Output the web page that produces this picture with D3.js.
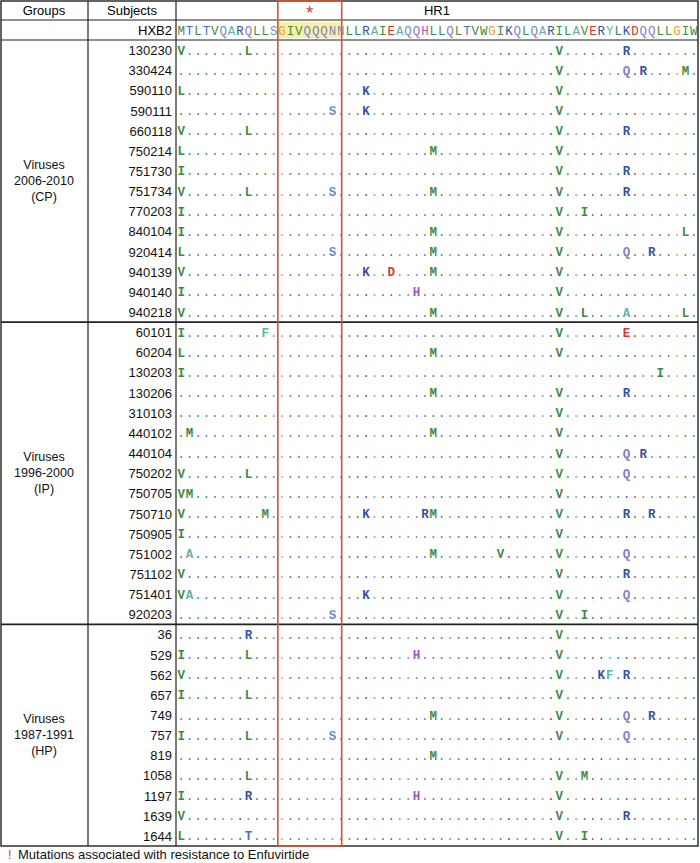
<!DOCTYPE html>
<html><head><meta charset="utf-8">
<script src="https://cdn.jsdelivr.net/npm/d3@7"></script>
<style>body{margin:0;background:#fff}</style>
</head><body><svg id="c" width="700" height="863"></svg>
<script>
// ---------------- DATA ----------------
const reference = "MTLTVQARQLLSGIVQQQNNLLRAIEAQQHLLQLTVWGIKQLQARILAVERYLKDQQLLGIW";
const regionLabel = "HR1";
const boxStart = 12, boxEnd = 19;   // boxed positions (GIVQQQNN)

const groupNames = [["Viruses","2006-2010","(CP)"],["Viruses","1996-2000","(IP)"],["Viruses","1987-1991","(HP)"]];

const subjectsCP = ["130230","330424","590110","590111","660118","750214","751730","751734","770203","840104","920414","940139","940140","940218"];
const mutationsCP = ["V0 L8 V45 R53","V45 Q53 R55 M60","L0 K22 V45","S18 K22 V45","V0 L8 V45 R53","L0 M30 V45","I0 V45 R53","V0 L8 S18 M30 V45 R53","I0 V45 I48","I0 M30 V45 L60","L0 S18 M30 V45 Q53 R56","V0 K22 D25 M30 V45","I0 H28 V45","V0 M30 V45 L48 A53 L60"];

const subjectsIP = ["60101","60204","130203","130206","310103","440102","440104","750202","750705","750710","750905","751002","751102","751401","920203"];
const mutationsIP = ["I0 F10 V45 E53","L0 M30 V45","I0 I57","M30 V45 R53","V45","M1 M30 V45","V45 Q53 R55","V0 L8 V45 Q53","V0 M1 V45","V0 M10 K22 R29 M30 V45 R53 R56","I0 V45","A1 M30 V38 V45 Q53","V0 V45 R53","V0 A1 K22 V45 Q53","S18 V45 I48"];

const subjectsHP = ["36","529","562","657","749","757","819","1058","1197","1639","1644"];
const mutationsHP = ["R8 V45","I0 L8 H28 V45","V0 V45 K50 F51 R53","I0 L8 V45","M30 V45 Q53 R56","I0 L8 S18 V45 Q53","M30","L8 V45 M48","I0 R8 H28 V45","V0 V45 R53","L0 T8 V45 I48"];

const footnote = "Mutations associated with resistance to Enfuvirtide";

// ---------------- STYLE ----------------
const aaColor = {
  M:"#3f8a42", L:"#3f8a42", I:"#3f8a42", V:"#3f8a42", W:"#3f8a42",
  A:"#5db3a6", F:"#5db3a6", Y:"#5db3a6",
  Q:"#7f80c6", N:"#8c86c4",
  R:"#34519f", K:"#34519f",
  E:"#d5382c", D:"#d5382c",
  G:"#e2a23a", H:"#a356c2",
  S:"#6e8dc6", T:"#4d6fb2"
};
const W = 700, top0 = 40, bottom = 846, xSeq0 = 177, xRight = 698, colG = 88, colS = 176;
const mono = "'Liberation Mono','DejaVu Sans Mono',monospace";
const sans = "'Liberation Sans',Arial,sans-serif";

const groups = [
  {name: groupNames[0], subjects: subjectsCP, muts: mutationsCP},
  {name: groupNames[1], subjects: subjectsIP, muts: mutationsIP},
  {name: groupNames[2], subjects: subjectsHP, muts: mutationsHP}
];
const rows = [];
groups.forEach((g, gi) => g.subjects.forEach((s, i) => {
  const m = {};
  g.muts[i].split(" ").forEach(t => { m[+t.slice(1)] = t[0]; });
  rows.push({key: gi + "_" + s, subject: s, group: gi, muts: m});
}));

const svg = d3.select("#c");
const x = d3.scaleBand().domain(d3.range(reference.length)).range([xSeq0, xRight]);
const y = d3.scaleBand().domain(rows.map(r => r.key)).range([top0, bottom]);
const bw = x.bandwidth(), rh = y.bandwidth();

// highlight on reference
const boxL = x(boxStart), boxR = x(boxEnd) + bw * 0.6;
svg.append("rect").attr("x", boxL).attr("y", 22).attr("width", boxR - boxL).attr("height", 16)
  .attr("fill", "#f6f1a6");

// reference row
svg.append("g").selectAll("text").data(reference.split("")).join("text")
  .attr("x", (d, i) => x(i) + bw / 2).attr("y", 35)
  .attr("text-anchor", "middle").attr("font-family", mono).attr("font-size", 12.5)
  .attr("fill", d => aaColor[d]).text(d => d);

// data rows
const rowG = svg.append("g").selectAll("g").data(rows).join("g")
  .attr("transform", d => `translate(0,${y(d.key)})`);
rowG.selectAll("text").data(d => reference.split("").map((c, i) => ({i, ref: c, mut: d.muts[i]})))
  .join("text")
  .attr("x", d => x(d.i) + bw / 2).attr("y", rh / 2 + 4.5)
  .attr("text-anchor", "middle").attr("font-family", mono)
  .attr("font-size", d => d.mut ? 12.5 : 12)
  .attr("font-weight", d => d.mut ? "bold" : "normal")
  .attr("fill", d => aaColor[d.mut || d.ref])
  .text(d => d.mut || ".");

// subject labels
rowG.append("text").attr("x", 172).attr("y", rh / 2 + 5).attr("text-anchor", "end")
  .attr("font-family", sans).attr("font-size", 13).attr("fill", "#111").text(d => d.subject);

// header texts
svg.append("text").attr("x", colG / 2).attr("y", 15).attr("text-anchor", "middle")
  .attr("font-family", sans).attr("font-size", 13).text("Groups");
svg.append("text").attr("x", (colG + colS) / 2).attr("y", 15).attr("text-anchor", "middle")
  .attr("font-family", sans).attr("font-size", 13).text("Subjects");
svg.append("text").attr("x", (colS + xRight) / 2).attr("y", 15).attr("text-anchor", "middle")
  .attr("font-family", sans).attr("font-size", 13).text(regionLabel);
svg.append("text").attr("x", 172).attr("y", 35).attr("text-anchor", "end")
  .attr("font-family", sans).attr("font-size", 13).text("HXB2");
svg.append("text").attr("x", (boxL + boxR) / 2).attr("y", 19).attr("text-anchor", "middle")
  .attr("font-family", sans).attr("font-size", 18).attr("fill", "#d9352a").text("*");

// group labels and separators
let acc = 0;
const lineC = "#222";
groups.forEach((g, gi) => {
  const y0 = y(rows[acc].key);
  const y1 = y(rows[acc + g.subjects.length - 1].key) + rh;
  acc += g.subjects.length;
  const cy = (y0 + y1) / 2;
  const t = svg.append("text").attr("text-anchor", "middle").attr("font-family", sans)
    .attr("font-size", 12.5).attr("fill", "#111");
  g.name.forEach((ln, k) => t.append("tspan").attr("x", colG / 2).attr("y", cy - 12 + k * 16).text(ln));
  if (gi < groups.length - 1)
    svg.append("line").attr("x1", 1).attr("x2", xRight).attr("y1", y1).attr("y2", y1)
      .attr("stroke", lineC).attr("stroke-width", 1.6);
});

// grid
svg.append("rect").attr("x", 1).attr("y", 1).attr("width", xRight - 1).attr("height", bottom - 1)
  .attr("fill", "none").attr("stroke", lineC).attr("stroke-width", 1.4);
[20, 40].forEach(v => svg.append("line").attr("x1", 1).attr("x2", xRight).attr("y1", v).attr("y2", v)
  .attr("stroke", lineC).attr("stroke-width", 1.2));
[colG, colS].forEach(v => svg.append("line").attr("x1", v).attr("x2", v).attr("y1", 1).attr("y2", bottom)
  .attr("stroke", lineC).attr("stroke-width", 1.2));

// red box
svg.append("rect").attr("x", boxL).attr("y", 1).attr("width", boxR - boxL).attr("height", bottom - 1)
  .attr("fill", "none").attr("stroke", "#d9502f").attr("stroke-width", 1.6);

// footnote
svg.append("text").attr("x", 8).attr("y", 859).attr("font-family", sans).attr("font-size", 13)
  .attr("fill", "#d9352a").text("!");
svg.append("text").attr("x", 18).attr("y", 859).attr("font-family", sans).attr("font-size", 13)
  .attr("fill", "#111").text(footnote);
</script></body></html>
